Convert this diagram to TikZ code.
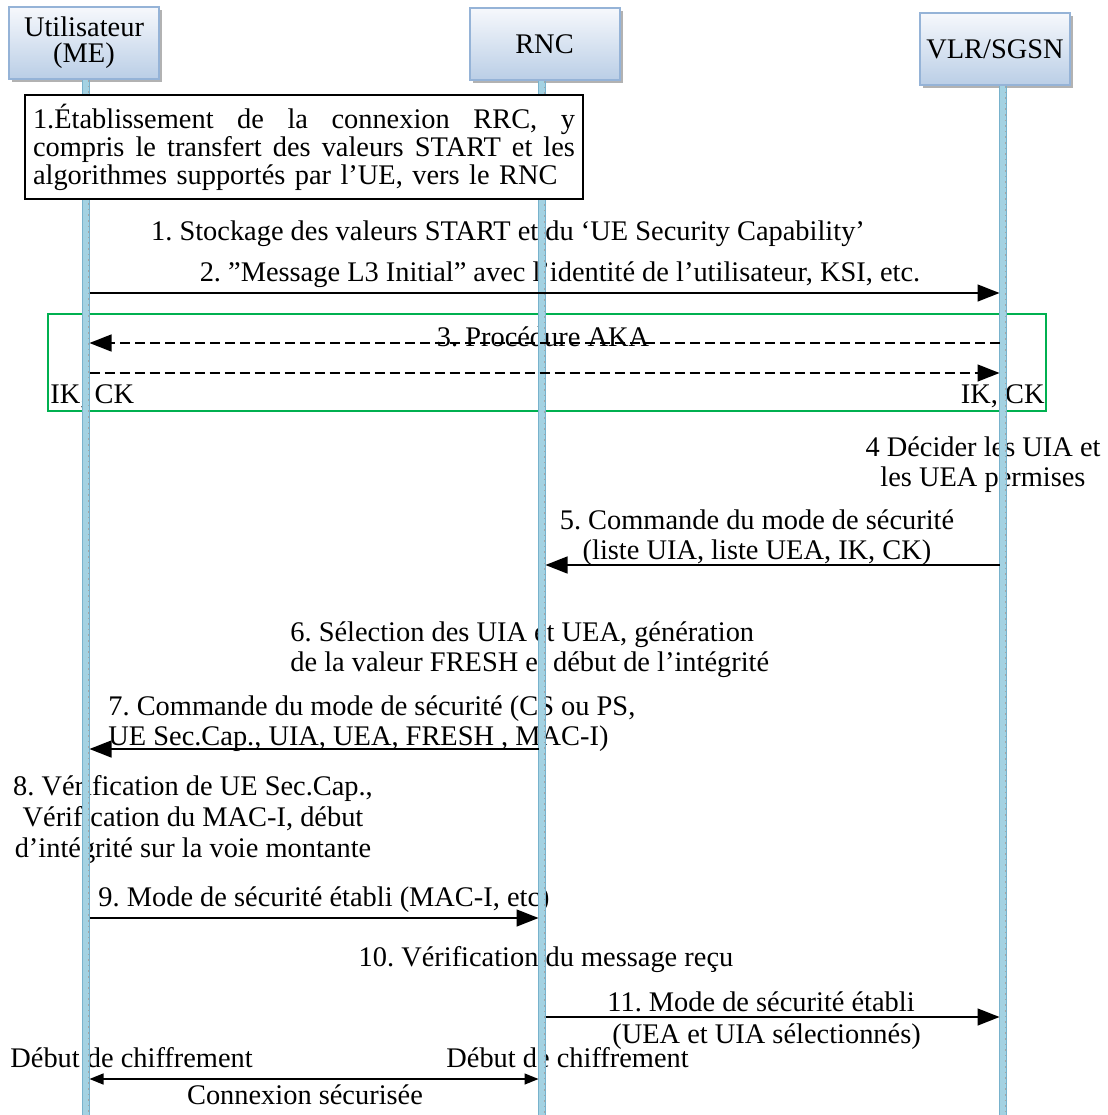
\documentclass[tikz,border=0pt]{standalone}
\usepackage{fontspec}
\setmainfont{Liberation Serif}
\usetikzlibrary{arrows.meta,shadows}
\definecolor{lifeblue}{RGB}{164,210,226}
\definecolor{lifeedge}{RGB}{120,178,204}
\definecolor{boxtop}{RGB}{246,248,252}
\definecolor{boxbot}{RGB}{186,206,230}
\definecolor{boxedge}{RGB}{149,179,215}
\definecolor{akagreen}{RGB}{0,176,80}
\tikzset{
  actor/.style={draw=boxedge,line width=1pt,top color=boxtop,bottom color=boxbot,
    minimum width=75pt,minimum height=36pt,inner sep=1pt,align=center,
    font=\fontsize{14.2}{13}\selectfont,
    drop shadow={shadow xshift=1.5pt,shadow yshift=-1.5pt,fill=gray!60,opacity=1}},
  lifeline/.style={draw=lifeedge,line width=.5pt,double=lifeblue,double distance=2.8pt},
  lifedots/.style={draw=gray!70,line width=.3pt,dash pattern=on .8pt off 2pt},
  notebox/.style={draw,fill=white,line width=.8pt,text width=271pt,inner xsep=4pt,
    minimum height=52pt,align=left,font=\fontsize{14.2}{12.8}\selectfont},
  msg/.style={line width=.7pt,-{Triangle[length=11pt,width=8.5pt]}},
  dmsg/.style={msg,dash pattern=on 5pt off 2.5pt},
  both/.style={line width=.7pt,{Triangle[length=7pt,width=5.5pt]}-{Triangle[length=7pt,width=5.5pt]}}
}
\newcommand{\fullline}[1]{\leavevmode\hbox to 271pt{#1}}
\frenchspacing
\begin{document}
\begin{tikzpicture}[x=.5pt,y=-.5pt,font=\fontsize{14.2}{15}\selectfont,
    every node/.append style={inner sep=0pt}]
  \useasboundingbox (0,0) rectangle (1108,1115);
  \draw[akagreen,line width=.6pt] (48,314) rectangle (1046,411);

  \node[actor] (ue) at (84,43) {Utilisateur\\(ME)};
  \node[actor] (rnc) at (544.5,44) {RNC};
  \node[actor] (vlr) at (995,49) {VLR/SGSN};

  \node[anchor=base] (stock) at (508,240) {1. Stockage des valeurs START et du ‘UE Security Capability’};
  \node[anchor=base] (initial) at (560,281) {2. ”Message L3 Initial” avec l’identité de l’utilisateur, KSI, etc.};
  \node[anchor=base] (aka) at (543,346) {3. Procédure AKA};
  \node[anchor=base west] (ikue) at (50,403) {IK, CK};
  \node[anchor=base east] (ikvlr) at (1045,403) {IK, CK};
  \node[anchor=base,align=center] (decide) at (983,486) {4 Décider les UIA et\\les UEA permises};
  \node[anchor=base,align=center] (cmdvlr) at (757,559) {5. Commande du mode de sécurité\\(liste UIA, liste UEA, IK, CK)};
  \node[anchor=base west,align=left] (select) at (290,671) {6. Sélection des UIA et UEA, génération\\de la valeur FRESH et début de l’intégrité};
  \node[anchor=base west,align=left] (cmdrnc) at (108,745) {7. Commande du mode de sécurité (CS ou PS,\\UE Sec.Cap., UIA, UEA, FRESH , MAC-I)};
  \node[anchor=base,align=center,font=\fontsize{14.2}{15.5}\selectfont] (verif) at (193,857) {8. Vérification de UE Sec.Cap.,\\Vérification du MAC-I, début\\d’intégrité sur la voie montante};
  \node[anchor=base] (done) at (324,906) {9. Mode de sécurité établi (MAC-I, etc)};
  \node[anchor=base] (check) at (546,966) {10. Vérification du message reçu};
  \node[anchor=base west] (donevlr) at (607,1011) {11. Mode de sécurité établi};
  \node[anchor=base west] (algos) at (612,1043) {(UEA et UIA sélectionnés)};
  \node[anchor=base west] (cipherue) at (10,1067) {Début de chiffrement};
  \node[anchor=base west] (cipherrnc) at (446,1067) {Début de chiffrement};
  \node[anchor=base] (secure) at (305,1104) {Connexion sécurisée};

  \coordinate (ueend) at (86,1115);
  \coordinate (rncend) at (542,1115);
  \coordinate (vlrend) at (1003,1115);
  \foreach \n in {ue,rnc,vlr}{
    \draw[lifeline] (\n end |- \n.south) -- (\n end);
    \draw[lifedots] ([xshift=1pt]\n end |- \n.south) -- ([xshift=1pt]\n end);
  }

  \node[notebox] (rrc) at (304,147) {\fullline{1.Établissement\hfill de\hfill la\hfill connexion\hfill RRC,\hfill y}\\
    \fullline{compris\hfill le\hfill transfert\hfill des\hfill valeurs\hfill START\hfill et\hfill les}\\
    algorithmes supportés par l’UE, vers le RNC};

  \coordinate (m2a) at (89.5,293); \coordinate (m2b) at (999.5,293);
  \coordinate (m3a) at (999.5,343); \coordinate (m3b) at (89.5,343);
  \coordinate (m3c) at (89.5,373); \coordinate (m3d) at (999.5,373);
  \coordinate (m5a) at (999.5,565); \coordinate (m5b) at (545.5,565);
  \coordinate (m7a) at (538.5,749); \coordinate (m7b) at (89.5,749);
  \coordinate (m9a) at (89.5,918); \coordinate (m9b) at (538.5,918);
  \coordinate (m11a) at (545.5,1017); \coordinate (m11b) at (999.5,1017);
  \coordinate (sa) at (89.5,1079); \coordinate (sb) at (538.5,1079);
  \draw[msg] (m2a) -- (m2b);
  \draw[dmsg] (m3a) -- (m3b);
  \draw[dmsg] (m3c) -- (m3d);
  \draw[msg] (m5a) -- (m5b);
  \draw[msg] (m7a) -- (m7b);
  \draw[msg] (m9a) -- (m9b);
  \draw[msg] (m11a) -- (m11b);
  \draw[both] (sa) -- (sb);
\end{tikzpicture}
\end{document}
